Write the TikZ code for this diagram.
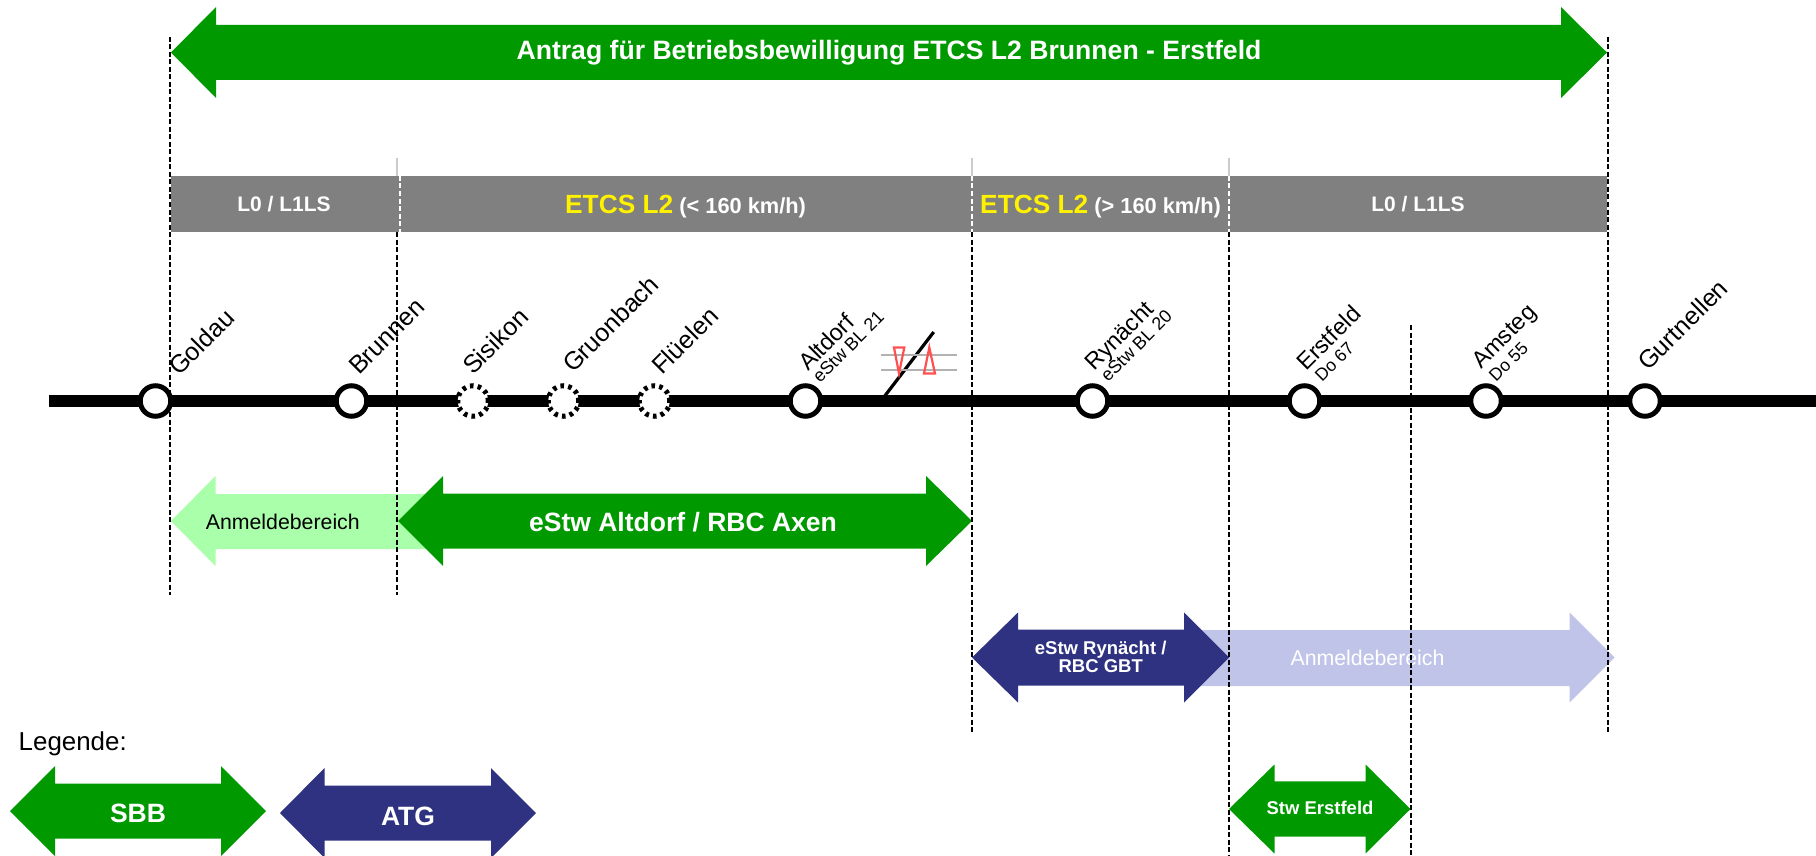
\documentclass[tikz,border=0pt]{standalone}
\usepackage{fontspec}
\setmainfont{Liberation Sans}
\definecolor{sbbgreen}{HTML}{009900}
\definecolor{lightgreen}{HTML}{AAFFAA}
\definecolor{atgblue}{HTML}{2E3280}
\definecolor{lightblue}{HTML}{C0C4E8}
\definecolor{barsgray}{HTML}{808080}
\definecolor{sigred}{HTML}{FF5050}
\newcommand{\fs}[1]{\fontsize{#1}{#1}\selectfont}
% double arrow: style, xtip-left, xbase-left, xbase-right, xtip-right, ymid, half-body, half-head
\newcommand{\dblarrow}[8]{%
  \path[#1] (#2,#6) -- (#3,#6-#8) -- (#3,#6-#7) -- (#4,#6-#7) -- (#4,#6-#8) -- (#5,#6)
    -- (#4,#6+#8) -- (#4,#6+#7) -- (#3,#6+#7) -- (#3,#6+#8) -- cycle;}
\tikzset{
  x=1pt,y=-1pt,
  green arrow/.style={fill=sbbgreen},
  blue arrow/.style={fill=atgblue},
  limit/.style={draw=black,line width=2pt,dash pattern=on 5pt off 2.5pt},
  limit top/.style={draw=black!20,line width=1.5pt},
  track/.style={draw=black,line width=12.6pt},
  station/.style={circle,draw=black,fill=white,line width=5pt,minimum size=30.5pt,inner sep=0pt},
  halt/.style={circle,draw=black,fill=white,line width=5pt,dash pattern=on 3.6pt off 4.2pt,minimum size=30.5pt,inner sep=0pt},
  stationlabel/.style={rotate=45,anchor=base west,inner sep=0pt,font=\fs{25}},
  stationsmall/.style={rotate=45,anchor=base west,inner sep=0pt,font=\fs{23.4}},
  sublabel/.style={rotate=45,anchor=base west,inner sep=0pt,font=\fs{18}},
  arrowtext/.style={text=white,font=\bfseries\fs{26.5},align=center,inner sep=0pt},
  smalltext/.style={text=white,font=\bfseries\fs{18.5},align=center,inner sep=0pt},
  bartext/.style={text=white,font=\bfseries\fs{21},inner sep=0pt},
  bartextb/.style={text=white,font=\bfseries\fs{21.8},inner sep=0pt},
  signal/.style={draw=sigred,line width=2.2pt,fill=none},
}
\begin{document}
\begin{tikzpicture}
\useasboundingbox (0,0) rectangle (1816,856);
% gray bar
\path[fill=barsgray] (171,176) rectangle (1607,232);
% track
\draw[track] (48.5,401) coordinate (tl) -- (1816,401) coordinate (tr);
\draw[line width=3.2pt,line cap=butt] (884,397) coordinate (da) -- (933.7,332) coordinate (db);
\draw[draw=black!30,line width=1.6pt] (881,354.7) coordinate (ga) -- (956.7,354.7) coordinate (gb);
\draw[draw=black!30,line width=1.6pt] (881,369.7) coordinate (gc) -- (956.7,369.7) coordinate (gd);
\draw[signal] (894,347.5) -- (904.3,347.5) -- (899,373.5) -- cycle;
\draw[signal] (929.3,347.5) -- (935,373.5) -- (924,373.5) -- cycle;
% bar texts
\node[bartext] (b1) at (284,204) {L0 / L1LS};
\node[bartextb,anchor=base west] (b2a) at (565,213) {\textcolor{yellow}{\fs{26.3}ETCS L2} (< 160 km/h)};
\node[bartextb,anchor=base west] (b3a) at (980,213) {\textcolor{yellow}{\fs{26.3}ETCS L2} (> 160 km/h)};
\node[bartext] (b4) at (1418,204) {L0 / L1LS};
% top arrow
\dblarrow{green arrow}{171}{216}{1561}{1607}{52.5}{27.5}{45.5}
\node[arrowtext,font=\bfseries\fs{26.6}] (top) at (889,53) {Antrag für Betriebsbewilligung ETCS L2 Brunnen - Erstfeld};
% light arrows
\path[fill=lightgreen] (171,521) -- (215.5,476) -- (215.5,494) -- (430,494) -- (430,549) -- (215.5,549) -- (215.5,566) -- cycle;
\node[inner sep=0pt,font=\fs{21.3}] (anm1) at (282.8,522) {Anmeldebereich};
\path[fill=lightblue] (1195,630) -- (1569.5,630) -- (1569.5,612.5) -- (1614.5,657.5) -- (1569.5,702.5) -- (1569.5,686) -- (1195,686) -- cycle;
\node[inner sep=0pt,font=\fs{21.3},text=white] (anm2) at (1367.5,658) {Anmeldebereich};
% dark arrows
\dblarrow{green arrow}{398}{443}{926}{972}{521}{27.5}{45}
\node[arrowtext] (altd) at (683,522) {eStw Altdorf / RBC Axen};
\dblarrow{blue arrow}{972}{1018}{1184}{1229}{657.5}{28}{45}
\node[smalltext] (ryn) at (1100.7,657) {eStw Rynächt /\\[-0.2pt]RBC GBT};
\dblarrow{green arrow}{1229}{1274.5}{1365.5}{1410.5}{809}{27.7}{44.5}
\node[smalltext] (stw) at (1320,808) {Stw Erstfeld};
% limit lines
\draw[limit] (170,37) coordinate (la) -- (170,595) coordinate (lb);
\draw[limit top] (397,158) coordinate (lc) -- (397,176) coordinate (ld);
\draw[limit,draw=white,line width=1.5pt] (400,176) coordinate (le) -- (400,232) coordinate (lf);
\draw[limit] (397,232) coordinate (lg) -- (397,595) coordinate (lh);
\draw[limit top] (972,158) coordinate (li) -- (972,176) coordinate (lj);
\draw[limit,draw=white,line width=1.5pt] (972,176) coordinate (lk) -- (972,232) coordinate (ll);
\draw[limit] (972,232) coordinate (lm) -- (972,733) coordinate (ln);
\draw[limit top] (1229,158) coordinate (lo) -- (1229,176) coordinate (lp);
\draw[limit,draw=white,line width=1.5pt] (1229,176) coordinate (lq) -- (1229,232) coordinate (lr);
\draw[limit] (1229,232) coordinate (ls) -- (1229,855) coordinate (lt);
\draw[limit] (1607.5,37) coordinate (lu) -- (1607.5,732) coordinate (lv);
\draw[limit] (1410.5,325) coordinate (lw) -- (1410.5,855) coordinate (lx);
% stations
\node[station] (goldau) at (155.5,401) {};
\node[station] (brunnen) at (351.5,401) {};
\node[halt] (sisikon) at (473,401) {};
\node[halt] (gruonbach) at (563.5,401) {};
\node[halt] (flueelen) at (654.5,401) {};
\node[station] (altdorf) at (805.5,401) {};
\node[station] (rynaecht) at (1092.5,401) {};
\node[station] (erstfeld) at (1304.5,401) {};
\node[station] (amsteg) at (1486,401) {};
\node[station] (gurtnellen) at (1645,401) {};
\node[stationlabel] (tgoldau) at (179,377) {Goldau};
\node[stationlabel] (tbrunnen) at (359,376) {Brunnen};
\node[stationlabel] (tsisikon) at (473,376) {Sisikon};
\node[stationlabel] (tgruon) at (573,374) {Gruonbach};
\node[stationlabel] (tflue) at (662,376) {Flüelen};
\node[stationsmall] (taltdorf) at (808,372) {Altdorf};
\node[sublabel] (saltdorf) at (820,384) {eStw BL 21};
\node[stationsmall] (trynaecht) at (1094,372) {Rynächt};
\node[sublabel] (srynaecht) at (1108,383) {eStw BL 20};
\node[stationsmall] (terst) at (1306,372) {Erstfeld};
\node[sublabel,font=\fs{17.5}] (serst) at (1322,383) {Do 67};
\node[stationsmall] (tamsteg) at (1481,370) {Amsteg};
\node[sublabel,font=\fs{17.5}] (samsteg) at (1496,383) {Do 55};
\node[stationlabel] (tgurt) at (1648,372) {Gurtnellen};
% legend
\node[inner sep=0pt,anchor=base west,font=\fs{25.9}] (leg) at (18.5,750) {Legende:};
\dblarrow{green arrow}{10}{55}{221}{266}{811}{27.5}{45}
\node[arrowtext] (sbb) at (138,813) {SBB};
\dblarrow{blue arrow}{280}{324.5}{491}{536}{813}{27.5}{45}
\node[arrowtext] (atg) at (408,816) {ATG};
\end{tikzpicture}
\end{document}
